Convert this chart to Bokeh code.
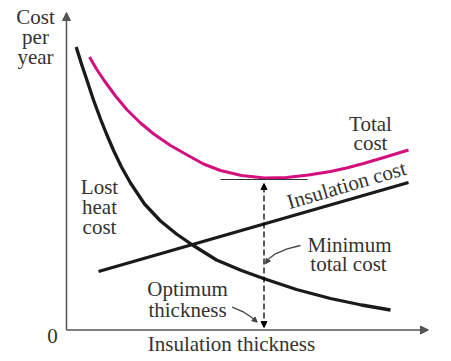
import math
from bokeh.plotting import figure
from bokeh.models import Range1d, Arrow, NormalHead, ColumnDataSource
from bokeh.core.properties import value
from bokeh.embed import file_html
from bokeh.resources import INLINE

# ---- data (schematic units: thickness vs cost per year) ----
lost_x = [0.97, 1.5, 2.07, 2.7, 3.4, 4.0, 4.73, 5.5, 6.4, 7.8, 9.4, 11.0, 12.6,
          15.0, 17.5, 19.7, 23.0, 26.4, 29.5, 32.4]
lost_y = [28.3, 26.6, 24.9, 23.0, 21.1, 19.6, 17.9, 16.3, 14.7, 12.6, 10.9, 9.6, 8.5,
          7.0, 5.95, 5.15, 4.05, 3.15, 2.5, 2.0]

total_x = [2.3, 3.0, 3.73, 4.9, 6.07, 7.4, 8.73, 10.4, 12.07, 13.7, 15.4, 17.5, 19.8,
           22.0, 24.2, 26.4, 28.0, 29.7, 31.9, 34.2]
total_y = [27.3, 26.1, 25.0, 23.4, 22.0, 20.7, 19.6, 18.45, 17.5, 16.6, 15.95, 15.45, 15.2,
           15.25, 15.5, 15.85, 16.2, 16.65, 17.3, 18.0]

insul_x = [3.2, 34.2]
insul_y = [5.85, 14.75]

optimum_x = 19.75
min_cost_y = 15.05
tangent_x = [15.4, 24.1]

x_axis_end = 36.2
y_axis_end = 31.75

leader_min_x = [23.4, 22.07, 20.9, 20.23, 19.9]
leader_min_y = [8.45, 8.12, 7.62, 7.12, 6.62]
leader_opt_x = [16.57, 17.73, 18.57, 19.07]
leader_opt_y = [2.28, 1.78, 1.22, 0.78]

label_text = ["Cost", "per", "year", "Total", "cost", "Lost", "heat", "cost",
              "Minimum", "total cost", "Optimum", "thickness", "0", "Insulation thickness"]
label_x = [-3.1, -3.1, -3.1, 30.4, 30.4, 3.3, 3.3, 3.3, 28.3, 28.2, 12.1, 12.1, -1.4, 16.5]
label_y = [31.35, 29.35, 27.35, 20.65, 18.75, 14.35, 12.35, 10.35, 8.55, 6.65, 4.15, 2.05, -0.55, -1.35]

rot_text = ["Insulation cost"]
rot_x = [28.0]
rot_y = [14.5]
rot_angle_deg = [16.5]

TEXT_COLOR = "#333333"
MAGENTA = "#d2117e"
FONT = value("Liberation Serif")

p = figure(width=451, height=361, output_backend="svg", toolbar_location=None,
           x_axis_type=None, y_axis_type=None, min_border=0,
           x_range=Range1d(-6.6, 38.5), y_range=Range1d(-3.15, 32.95))
p.grid.visible = False
p.outline_line_color = None
p.background_fill_color = "white"

# axes with arrowheads
p.add_layout(Arrow(end=NormalHead(size=8, fill_color="#555555", line_color="#555555"),
                   x_start=0, y_start=0, x_end=0, y_end=y_axis_end,
                   line_color="#555555", line_width=1.5))
p.add_layout(Arrow(end=NormalHead(size=8, fill_color="#555555", line_color="#555555"),
                   x_start=0, y_start=0, x_end=x_axis_end, y_end=0,
                   line_color="#555555", line_width=1.5))

# curves
p.line(lost_x, lost_y, line_color="#1a1a1a", line_width=3.3, line_join="round")
p.line(insul_x, insul_y, line_color="#1a1a1a", line_width=3.3)
p.line(total_x, total_y, line_color=MAGENTA, line_width=3.0, line_join="round")
p.line(tangent_x, [min_cost_y, min_cost_y], line_color="#333333", line_width=1.2)

# dashed optimum line with arrowheads
p.add_layout(Arrow(start=NormalHead(size=6, fill_color="black", line_color="black"),
                   end=NormalHead(size=6, fill_color="black", line_color="black"),
                   x_start=optimum_x, y_start=0.25, x_end=optimum_x, y_end=min_cost_y - 0.4,
                   line_color="black", line_width=1.3, line_dash="6 3"))

# leader lines
p.line(leader_min_x[:-1], leader_min_y[:-1], line_color="#444444", line_width=1.3,
       line_join="round")
p.add_layout(Arrow(end=NormalHead(size=5, fill_color="#444444", line_color="#444444"),
                   x_start=leader_min_x[-2], y_start=leader_min_y[-2],
                   x_end=leader_min_x[-1], y_end=leader_min_y[-1],
                   line_color="#444444", line_width=1.3))
p.line(leader_opt_x[:-1], leader_opt_y[:-1], line_color="#444444", line_width=1.3,
       line_join="round")
p.add_layout(Arrow(end=NormalHead(size=5, fill_color="#444444", line_color="#444444"),
                   x_start=leader_opt_x[-2], y_start=leader_opt_y[-2],
                   x_end=leader_opt_x[-1], y_end=leader_opt_y[-1],
                   line_color="#444444", line_width=1.3))

# labels
src = ColumnDataSource(dict(x=label_x, y=label_y, text=label_text))
p.text(x="x", y="y", text="text", source=src, text_font=FONT, text_font_size="21px",
       text_align="center", text_baseline="alphabetic", text_color=TEXT_COLOR)

rsrc = ColumnDataSource(dict(x=rot_x, y=rot_y, text=rot_text,
                             angle=[math.radians(a) for a in rot_angle_deg]))
p.text(x="x", y="y", text="text", angle="angle", source=rsrc, text_font=FONT,
       text_font_size="21px", text_align="center", text_baseline="alphabetic",
       text_color=TEXT_COLOR)

open("out.html", "w").write(file_html(p, INLINE))
